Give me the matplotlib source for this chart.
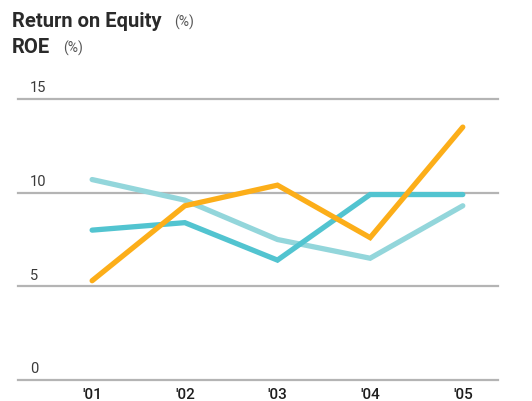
import matplotlib
matplotlib.use('Agg')
import matplotlib.pyplot as plt
import matplotlib.transforms as mtransforms

# data
years = ["'01", "'02", "'03", "'04", "'05"]
roe_orange = [5.3, 9.3, 10.4, 7.6, 13.5]
roe_teal = [8.0, 8.4, 6.4, 9.9, 9.9]
roe_light = [10.7, 9.6, 7.5, 6.5, 9.3]
yticks = [0, 5, 10, 15]

font = ['Roboto', 'DejaVu Sans']

fig = plt.figure(figsize=(5.32, 4.02), dpi=100)
ax = fig.add_axes([18 / 532, 21 / 402, 480 / 532, 281 / 402])

x = list(range(len(years)))
ax.plot(x, roe_light, color='#93d6db', lw=3.8, solid_capstyle='round', solid_joinstyle='miter')
ax.plot(x, roe_teal, color='#52c4d0', lw=3.8, solid_capstyle='round', solid_joinstyle='miter')
ax.plot(x, roe_orange, color='#fcae19', lw=3.8, solid_capstyle='round', solid_joinstyle='miter')

ax.set_xlim(-0.8, 4.38)
ax.set_ylim(0, 15)

# horizontal rules with their labels sitting on top
trans = mtransforms.blended_transform_factory(ax.transAxes, ax.transData)
for t in yticks:
    ax.axhline(t, color='#b4b4b4', lw=1.6, zorder=0, clip_on=False)
    ax.text(0.025, t + 0.25, str(t), transform=trans, fontsize=10.5,
            color='#3a3a3a', family=font, ha='left', va='bottom')

for s in ax.spines.values():
    s.set_visible(False)
ax.set_yticks([])
ax.set_xticks(x)
ax.set_xticklabels(years, family=font, fontsize=11, fontweight='medium', color='#1e1e1e')
ax.tick_params(axis='x', length=0, pad=5)

# two-line title, each followed by a small (%)
t1 = fig.text(12 / 532, 1 - 27 / 402, 'Return on Equity', family=font, fontsize=14.5,
              fontweight='bold', color='#2a2a2a', va='baseline')
t2 = fig.text(12 / 532, 1 - 53 / 402, 'ROE', family=font, fontsize=14.5,
              fontweight='bold', color='#2a2a2a', va='baseline')
for head in (t1, t2):
    # bbox bottom is below the baseline by the descent, so lift it back up
    ax.annotate('(%)', xy=(1, 0), xycoords=head, xytext=(9, 3.5), textcoords='offset points',
                family=font, fontsize=10, color='#555555', va='baseline', ha='left',
                annotation_clip=False)

fig.savefig('out.png', dpi=100)
